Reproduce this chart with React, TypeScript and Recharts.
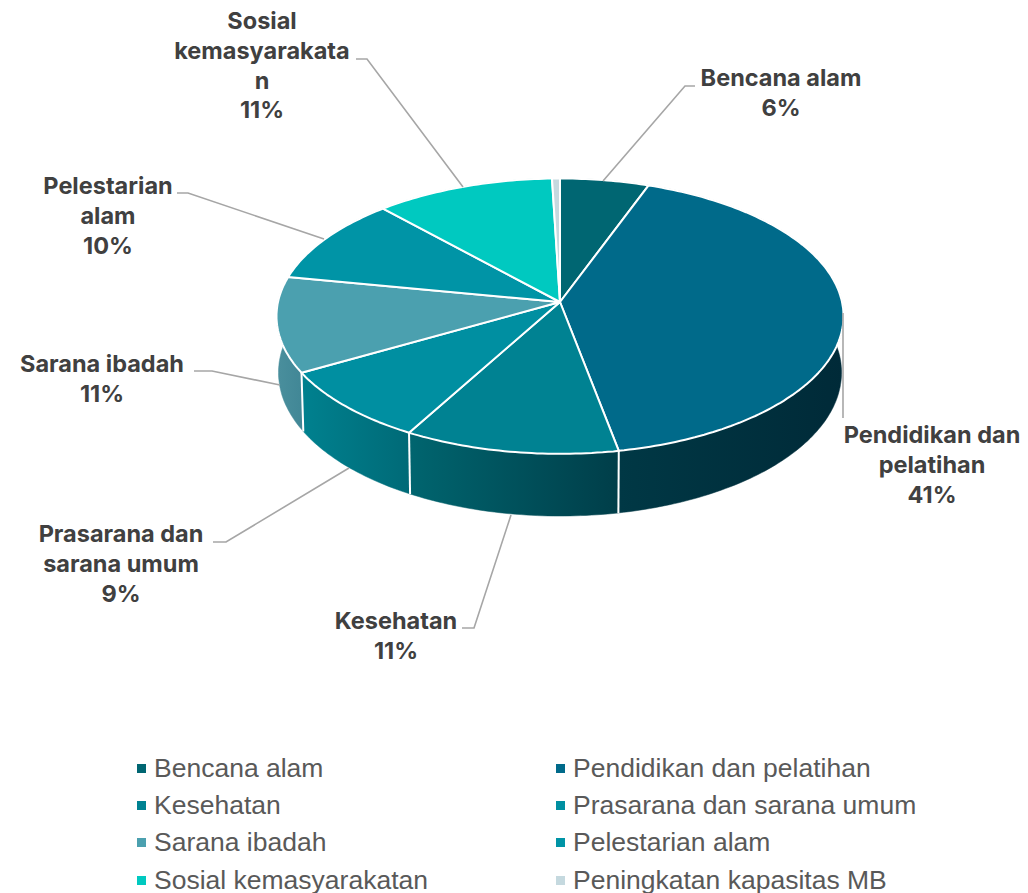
import React from 'react';
import { PieChart, Pie, Legend } from 'recharts';

const categories = [
  'Bencana alam',
  'Pendidikan dan pelatihan',
  'Kesehatan',
  'Prasarana dan sarana umum',
  'Sarana ibadah',
  'Pelestarian alam',
  'Sosial kemasyarakatan',
  'Peningkatan kapasitas MB',
];
const values = [5.6, 41.4, 11.1, 8.7, 11.2, 10.2, 11.3, 0.5];
const topColors = ['#006672', '#006a8a', '#008292', '#008fa1', '#4ba0af', '#0094a6', '#00c9c0', '#c5d9df'];
const wallColors = [
  ['#004a53', '#004a53'],
  ['#003845', '#002a38'],
  ['#00656f', '#003e49'],
  ['#00818f', '#006a77'],
  ['#4a8f9d', '#418796'],
  ['#006b78', '#006b78'],
  ['#009089', '#009089'],
  ['#8fa0a5', '#8fa0a5'],
];
// null = no callout drawn for that slice
const labelLines = [
  ['Bencana alam'],
  ['Pendidikan dan', 'pelatihan'],
  ['Kesehatan'],
  ['Prasarana dan', 'sarana umum'],
  ['Sarana ibadah'],
  ['Pelestarian', 'alam'],
  ['Sosial', 'kemasyarakata', 'n'],
  null,
];

const data = categories.map((name, i) => ({ name, value: values[i], fill: topColors[i] }));

// callout placement: text centre, first line y, leader points
const callouts = [
  { x: 781, y: 78, leader: '603,181 685,86 695,86' },
  { x: 932, y: 435, leader: '843,313 843,418' },
  { x: 396, y: 621, leader: '511,515 474,628 462,628' },
  { x: 121, y: 534, leader: '349,468 226,542 213,542' },
  { x: 102, y: 364, leader: '280,385 212,371 194,371' },
  { x: 108, y: 186, leader: '324,239 188,193 177,193' },
  { x: 262, y: 21, leader: '463,187 367,59 356,59' },
];

const PERSPECTIVE = 0.1029;
const TILT = 0.483;
const WALL_DEPTH = 55.8;
const LINE_HEIGHT = 29.8;

// circle -> tilted disc, the near edge comes out bigger
const project = (cx: number, cy: number, r: number, deg: number) => {
  const rad = (deg * Math.PI) / 180;
  const px = Math.cos(rad);
  const py = -Math.sin(rad);
  const w = 1 - PERSPECTIVE * py;
  return { x: cx + (r * px) / w, y: cy + (r * TILT * py) / w, w };
};

const arcPoints = (props: any) => {
  const { cx, cy, outerRadius, startAngle, endAngle } = props;
  const steps = Math.max(2, Math.ceil(Math.abs(endAngle - startAngle)));
  const pts = [];
  for (let i = 0; i <= steps; i++) {
    pts.push(project(cx, cy, outerRadius, startAngle + ((endAngle - startAngle) * i) / steps));
  }
  return pts;
};

const lowered = (p: { x: number; y: number; w: number }, cx: number) => ({
  x: cx + (p.x - cx) * 0.993,
  y: p.y + WALL_DEPTH / p.w,
});

const toPath = (pts: { x: number; y: number }[]) =>
  pts.map((p, i) => `${i ? 'L' : 'M'}${p.x.toFixed(1)},${p.y.toFixed(1)}`).join(' ');

const WallShape = (props: any) => {
  const pts = arcPoints(props);
  const bottom = pts.map(p => lowered(p, props.cx));
  const xs = pts.map(p => p.x);
  const id = `wall-${props.index}`;
  const [from, to] = wallColors[props.index];
  return (
    <g>
      <defs>
        <linearGradient id={id} gradientUnits="userSpaceOnUse" x1={Math.min(...xs)} x2={Math.max(...xs)} y1={0} y2={0}>
          <stop offset="0%" stopColor={from} />
          <stop offset="100%" stopColor={to} />
        </linearGradient>
      </defs>
      <path d={`${toPath([...pts, ...bottom.reverse()])} Z`} fill={`url(#${id})`} stroke={`url(#${id})`} strokeWidth={0.5} />
      <line x1={pts[0].x} y1={pts[0].y} x2={lowered(pts[0], props.cx).x} y2={lowered(pts[0], props.cx).y} stroke="#fff" strokeWidth={2} />
    </g>
  );
};

const TopShape = (props: any) => {
  const pts = arcPoints(props);
  return (
    <path
      d={`M${props.cx},${props.cy} ${toPath(pts).replace('M', 'L')} Z`}
      fill={props.fill}
      stroke="#fff"
      strokeWidth={2}
      strokeLinejoin="round"
    />
  );
};

const renderLabel = (props: any) => {
  const lines = labelLines[props.index];
  if (!lines) return null;
  const spot = callouts[props.index];
  const text = [...lines, `${Math.round(values[props.index])}%`];
  return (
    <g key={props.index}>
      <polyline points={spot.leader} fill="none" stroke="#a6a6a6" strokeWidth={1.6} />
      <text textAnchor="middle" fontFamily="Inter, sans-serif" fontWeight={700} fontSize={23.5} fill="#404040">
        {text.map((t, i) => (
          <tspan key={i} x={spot.x} y={spot.y + i * LINE_HEIGHT + 8}>{t}</tspan>
        ))}
      </text>
    </g>
  );
};

const renderLegend = ({ payload }: any) => (
  <div style={{ display: 'grid', gridTemplateColumns: '419px 419px', gridAutoRows: '37.4px', fontFamily: '"Liberation Sans", Arial, sans-serif', fontSize: 26.5, color: '#595959' }}>
    {(payload || []).filter((item: any) => item.type !== 'none').map((item: any) => (
      <div key={item.value} style={{ display: 'flex', alignItems: 'center', whiteSpace: 'nowrap', height: 37.4 }}>
        <span style={{ width: 9, height: 9, marginRight: 8, background: item.color, display: 'inline-block' }} />
        {item.value}
      </div>
    ))}
  </div>
);

export default function App() {
  return (
    <div style={{ position: 'absolute', left: 0, top: 0, width: 1028, height: 893, overflow: 'hidden', background: '#fff' }}>
      <PieChart width={1028} height={893} margin={{ top: 0, right: 0, bottom: 0, left: 0 }}>
        <Pie
          data={data}
          dataKey="value"
          nameKey="name"
          cx={560}
          cy={302}
          outerRadius={282}
          startAngle={90}
          endAngle={-270}
          paddingAngle={0}
          legendType="none"
          shape={WallShape}
          isAnimationActive={false}
        />
        <Pie
          data={data}
          dataKey="value"
          nameKey="name"
          cx={560}
          cy={302}
          outerRadius={282}
          startAngle={90}
          endAngle={-270}
          paddingAngle={0}
          shape={TopShape}
          label={renderLabel}
          labelLine={false}
          isAnimationActive={false}
        />
        <Legend content={renderLegend} itemSorter={null} wrapperStyle={{ left: 137, top: 749.5, width: 860, height: 144 }} />
      </PieChart>
    </div>
  );
}
